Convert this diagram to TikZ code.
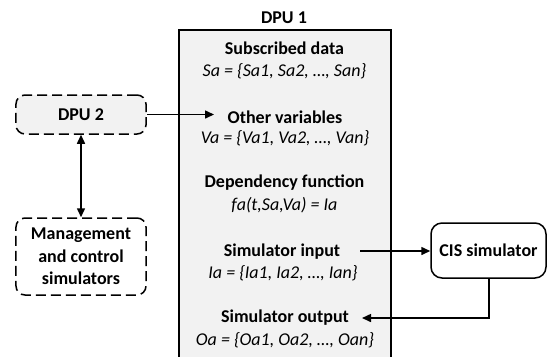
\documentclass[tikz,border=0pt]{standalone}
\usepackage{fontspec}
\setmainfont{Carlito}
\usetikzlibrary{arrows.meta}
\definecolor{boxgray}{HTML}{F2F2F2}
\tikzset{
  txt/.style={font=\fontsize{18bp}{21bp}\selectfont\bfseries, inner sep=0pt, anchor=center},
  frm/.style={font=\fontsize{18bp}{21bp}\selectfont\itshape, inner sep=0pt, anchor=center},
  conn/.style={line width=1.5bp, -{Triangle[length=9bp,width=8bp]}},
  dconn/.style={line width=1.5bp, {Triangle[length=9bp,width=8bp]}-{Triangle[length=9bp,width=8bp]}},
  dashbox/.style={draw, line width=1.5bp, dash pattern=on 10bp off 5bp, rounded corners=9bp, minimum width=130bp, align=center, font=\fontsize{18bp}{22.5bp}\selectfont\bfseries},
  solidbox/.style={draw, line width=1.5bp, rounded corners=11bp, font=\fontsize{18bp}{21bp}\selectfont\bfseries}
}
\begin{document}
\begin{tikzpicture}[x=1bp,y=-1bp]
\useasboundingbox (0,0) rectangle (547,356);
% DPU 1 box (open at bottom)
\fill[boxgray] (179,30) rectangle (390.5,360);
\draw[line width=2bp] (179,360) -- (179,30) -- (390.5,30) -- (390.5,360);
\node[txt] (dpu1) at (284,18) {DPU 1};
\node[txt] (subs) at (284.5,48) {Subscribed data};
\node[frm] (sa) at (284.5,71) {Sa = \{Sa1, Sa2, …, San\}};
\node[txt] (other) at (285,117) {Other variables};
\node[frm] (va) at (285,138) {Va = \{Va1, Va2, …, Van\}};
\node[txt] (dep) at (284.5,183) {Dependency function};
\node[frm] (fa) at (284.5,205) {fa(t,Sa,Va) = Ia};
\node[txt] (sin) at (282,252) {Simulator input};
\node[frm] (ia) at (283,273) {Ia = \{Ia1, Ia2, …, Ian\}};
\node[txt] (sout) at (285,318) {Simulator output};
\node[frm] (oa) at (285,340) {Oa = \{Oa1, Oa2, …, Oan\}};
% left boxes
\node[dashbox, fill=boxgray, minimum height=39bp] (dpu2) at (81,114.5) {DPU 2};
\node[dashbox, minimum height=77bp] (mgmt) at (81,256.5) {Management\\and control\\simulators};
% CIS simulator
\node[solidbox, minimum width=115bp, minimum height=55bp] (cis) at (488.5,250.5) {CIS simulator};
% connectors
\coordinate (otherin) at (214,114.5);
\draw[conn] (dpu2.east) -- (otherin);
\draw[dconn] (dpu2.south) -- (mgmt.north);
\coordinate (sinout) at (360,251);
\draw[conn] (sinout) -- (cis.west |- sinout);
\coordinate (soutin) at (362,318);
\coordinate (corner) at (489,318);
\draw[conn] (cis.south -| corner) -- (corner) -- (soutin);
\end{tikzpicture}
\end{document}
